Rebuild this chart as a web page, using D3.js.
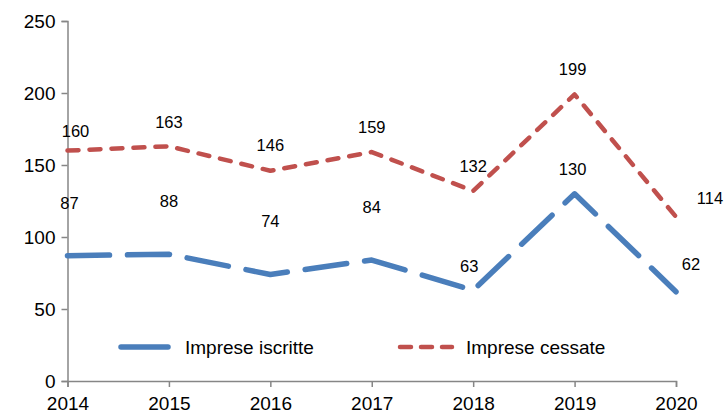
<!DOCTYPE html>
<html>
<head>
<meta charset="utf-8">
<script src="https://cdn.jsdelivr.net/npm/d3@7"></script>
<style>
  body { margin: 0; background: #fff; }
  svg { font-family: "Liberation Sans", Arial, sans-serif; }
</style>
</head>
<body>
<svg width="724" height="416"></svg>
<script>
var years = [2014, 2015, 2016, 2017, 2018, 2019, 2020];
var iscritte = [87, 88, 74, 84, 63, 130, 62];
var cessate = [160, 163, 146, 159, 132, 199, 114];
var yTicks = [0, 50, 100, 150, 200, 250];

// label nudges (dx, dy from point), like Excel placed them
var nudgeIscritte = [[2, -52], [0, -53], [0, -53], [0, -53], [-4, -24], [-2, -25], [15, -27]];
var nudgeCessate = [[8, -19], [0, -24], [0, -26], [0, -25], [0, -25], [-2, -25], [34, -19]];

var svg = d3.select("svg");

var x = d3.scaleLinear()
    .domain([2014, 2020])
    .range([67.5, 676]);

var y = d3.scaleLinear()
    .domain([0, 250])
    .range([381, 21]);

var axisColor = "#868686";

var gx = svg.append("g")
    .attr("transform", "translate(0," + y(0) + ")")
    .call(d3.axisBottom(x).tickValues(years).tickFormat(d3.format("d")).tickSize(6).tickPadding(5));

var gy = svg.append("g")
    .attr("transform", "translate(" + x(2014) + ",0)")
    .call(d3.axisLeft(y).tickValues(yTicks).tickSize(6).tickPadding(6));

[gx, gy].forEach(function(g) {
  g.select(".domain").attr("stroke", axisColor).attr("stroke-width", 1.5);
  g.selectAll(".tick line").attr("stroke", axisColor).attr("stroke-width", 1.5);
  g.selectAll(".tick text").attr("fill", "#000").attr("font-size", "19px")
    .attr("font-family", "Liberation Sans, Arial, sans-serif");
});
gx.selectAll(".tick text").attr("dy", "0.95em");
gy.selectAll(".tick text").attr("dy", "0.36em");

var line = d3.line()
    .x(function(d, i) { return x(years[i]); })
    .y(function(d) { return y(d); });

svg.append("path")
    .datum(cessate)
    .attr("fill", "none")
    .attr("stroke", "#c0504d")
    .attr("stroke-width", 4.5)
    .attr("stroke-linecap", "round")
    .attr("stroke-linejoin", "round")
    .attr("stroke-dasharray", "11,11")
    .attr("d", line);

svg.append("path")
    .datum(iscritte)
    .attr("fill", "none")
    .attr("stroke", "#4a7ebb")
    .attr("stroke-width", 5.5)
    .attr("stroke-linecap", "round")
    .attr("stroke-linejoin", "round")
    .attr("stroke-dasharray", "42,18")
    .attr("d", line);

function labels(data, nudge) {
  svg.append("g").selectAll("text")
    .data(data)
    .enter()
    .append("text")
    .attr("x", function(d, i) { return x(years[i]) + nudge[i][0]; })
    .attr("y", function(d, i) { return y(d) + nudge[i][1]; })
    .attr("dy", "0.35em")
    .attr("text-anchor", "middle")
    .attr("font-size", "16.5px")
    .attr("fill", "#000")
    .text(function(d) { return d; });
}
labels(cessate, nudgeCessate);
labels(iscritte, nudgeIscritte);

// legend
var legend = svg.append("g");
legend.append("line")
    .attr("x1", 121).attr("x2", 168).attr("y1", 347).attr("y2", 347)
    .attr("stroke", "#4a7ebb").attr("stroke-width", 5.5).attr("stroke-linecap", "round");
legend.append("text")
    .attr("x", 185).attr("y", 347).attr("dy", "0.35em")
    .attr("font-size", "19px").text("Imprese iscritte");
legend.append("line")
    .attr("x1", 400).attr("x2", 452).attr("y1", 347).attr("y2", 347)
    .attr("stroke", "#c0504d").attr("stroke-width", 4.5).attr("stroke-linecap", "round")
    .attr("stroke-dasharray", "11,10");
legend.append("text")
    .attr("x", 466).attr("y", 347).attr("dy", "0.35em")
    .attr("font-size", "19px").text("Imprese cessate");
</script>
</body>
</html>
